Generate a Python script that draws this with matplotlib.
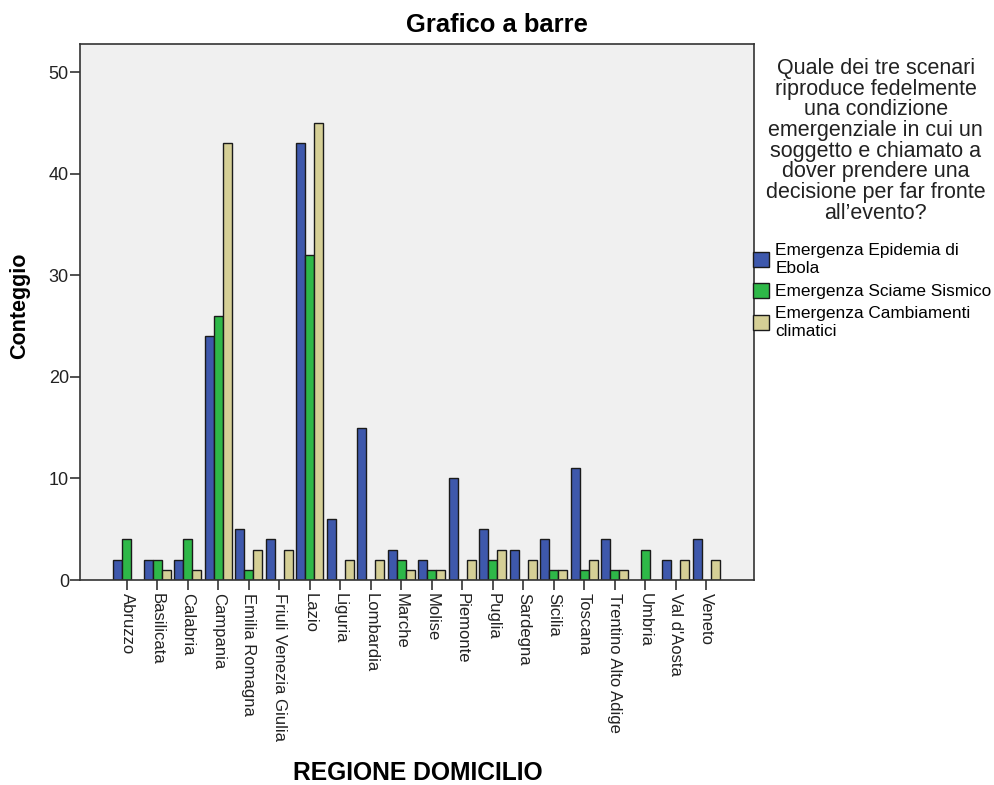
import matplotlib
matplotlib.use('Agg')
import matplotlib.pyplot as plt
import numpy as np

#DATA
regioni = ['Abruzzo', 'Basilicata', 'Calabria', 'Campania', 'Emilia Romagna',
           'Friuli Venezia Giulia', 'Lazio', 'Liguria', 'Lombardia', 'Marche',
           'Molise', 'Piemonte', 'Puglia', 'Sardegna', 'Sicilia', 'Toscana',
           'Trentino Alto Adige', 'Umbria', "Val d'Aosta", 'Veneto']
ebola = [2, 2, 2, 24, 5, 4, 43, 6, 15, 3, 2, 10, 5, 3, 4, 11, 4, 0, 2, 4]
sciame = [4, 2, 4, 26, 1, 0, 32, 0, 0, 2, 1, 0, 2, 0, 1, 1, 1, 3, 0, 0]
clima = [0, 1, 1, 43, 3, 3, 45, 2, 2, 1, 1, 2, 3, 2, 1, 2, 1, 0, 2, 2]
serie = ['Emergenza Epidemia di\nEbola', 'Emergenza Sciame Sismico',
         'Emergenza Cambiamenti\nclimatici']
colori = ['#3E58AC', '#2EB848', '#D5CF96']

plt.rcParams['font.family'] = ['Liberation Sans', 'DejaVu Sans']

fig = plt.figure(figsize=(9.94, 7.85), dpi=100)
ax = fig.add_axes([0.0805, 0.2611, 0.678, 0.683])
ax.set_facecolor('#F0F0F0')

x = np.arange(len(regioni))
w = 0.295
handles = []
for i, (vals, col) in enumerate(zip([ebola, sciame, clima], colori)):
    vals = np.array(vals, dtype=float)
    # SPSS does not draw zero-height bars
    vals = np.where(vals == 0, np.nan, vals)
    b = ax.bar(x + (i - 1) * w, vals, width=w, color=col,
               edgecolor='#1a1a1a', linewidth=1.0)
    handles.append(b)

ax.set_xlim(-1.54, 20.56)
ax.set_ylim(0, 52.8)
ax.set_yticks([0, 10, 20, 30, 40, 50])
ax.set_xticks(x)
ax.set_xticklabels(regioni, rotation=270, fontsize=12, color='#222222')
ax.tick_params(axis='y', labelsize=13, colors='#222222', length=7, width=1.2,
               pad=1)
ax.tick_params(axis='x', length=7, width=1.2, pad=2)
ax.tick_params(axis='both', color='#333333')
for s in ax.spines.values():
    s.set_color('#333333')
    s.set_linewidth(1.2)

#TITLES
fig.text(0.5, 0.968, 'Grafico a barre', fontsize=18.4, fontweight='bold',
         ha='center', va='center')
fig.text(0.02, 0.611, 'Conteggio', fontsize=15.5, fontweight='bold',
         ha='center', va='center', rotation=90)
fig.text(0.42, 0.0153, 'REGIONE DOMICILIO', fontsize=17.7, fontweight='bold',
         ha='center', va='center')

#LEGEND
fig.text(0.881, 0.926,
         'Quale dei tre scenari\nriproduce fedelmente\nuna condizione\n'
         'emergenziale in cui un\nsoggetto e chiamato a\ndover prendere una\n'
         'decisione per far fronte\nall\u2019evento?',
         fontsize=15.5, ha='center', va='top', linespacing=0.98,
         color='#222222')
leg = fig.legend(handles, serie, loc='upper left',
                 bbox_to_anchor=(0.7576, 0.69), frameon=False,
                 fontsize=12.4, handlelength=0.9, handleheight=0.95,
                 handletextpad=0.4, labelspacing=0.4, borderaxespad=0,
                 borderpad=0)
for t in leg.get_texts():
    t.set_linespacing(1.22)

fig.savefig('out.png', dpi=100)
